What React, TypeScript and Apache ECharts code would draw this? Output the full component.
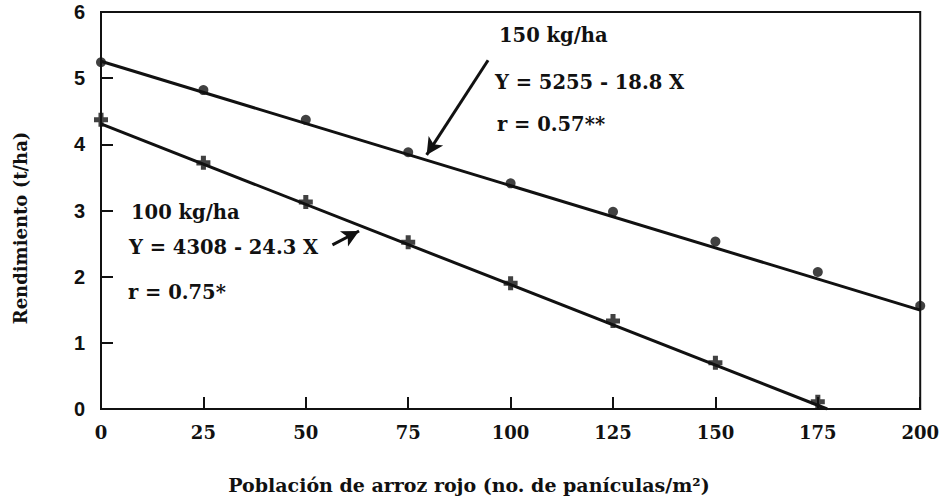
import React, { useEffect, useRef } from "react";
import * as echarts from "echarts";

const xTicks = [0, 25, 50, 75, 100, 125, 150, 175, 200];
const yTicks = [0, 1, 2, 3, 4, 5, 6];

// 150 kg/ha observations (circles)
const x150 = [0, 25, 50, 75, 100, 125, 150, 175, 200];
const y150 = [5.24, 4.82, 4.37, 3.88, 3.41, 2.98, 2.53, 2.07, 1.56];
// 100 kg/ha observations (crosses)
const x100 = [0, 25, 50, 75, 100, 125, 150, 175];
const y100 = [4.37, 3.72, 3.13, 2.52, 1.9, 1.33, 0.7, 0.11];

// fitted lines (endpoints)
const fit150 = [[0, 5.255], [200, 1.495]];
const fit100 = [[0, 4.308], [177.3, 0]];

// annotation arrows (data coords)
const arrow150 = [[94.5, 5.27], [79.5, 3.84]];
const arrow100 = [[56.5, 2.48], [63, 2.69]];

const serif = "'DejaVu Serif', 'Liberation Serif', serif";
const CROSS = "path://M3.2,0 L6.8,0 L6.8,3.2 L10,3.2 L10,6.8 L6.8,6.8 L6.8,10 L3.2,10 L3.2,6.8 L0,6.8 L0,3.2 L3.2,3.2 Z";

export default function App() {
  const ref = useRef<HTMLDivElement>(null);
  useEffect(() => {
    const chart = echarts.init(ref.current!, null, { renderer: "svg" });
    const pts = (xs: number[], ys: number[]) => xs.map((x, i) => [x, ys[i]]);
    const txt = (x: number, y: number, s: string, size = 19.5) => ({
      type: "text",
      x,
      y,
      style: { text: s, font: `bold ${size}px ${serif}`, fill: "#111", textVerticalAlign: "middle" },
    });
    chart.setOption({
      animation: false,
      backgroundColor: "#fff",
      grid: { left: 101, right: 21, top: 12, bottom: 91, show: true, borderColor: "#111", borderWidth: 2 },
      xAxis: {
        type: "value",
        min: 0,
        max: 200,
        interval: 25,
        axisLine: { lineStyle: { color: "#111", width: 2 } },
        axisTick: { inside: true, length: 12, lineStyle: { color: "#111", width: 2 } },
        splitLine: { show: false },
        axisLabel: {
          color: "#111",
          fontFamily: serif,
          fontWeight: "bold",
          fontSize: 18,
          margin: 14,
          formatter: (v: number) => (xTicks.includes(v) ? String(v) : ""),
        },
      },
      yAxis: {
        type: "value",
        min: 0,
        max: 6,
        interval: 1,
        axisLine: { show: true, lineStyle: { color: "#111", width: 2 } },
        axisTick: { show: true, inside: true, length: 12, lineStyle: { color: "#111", width: 2 } },
        splitLine: { show: false },
        axisLabel: {
          color: "#111",
          fontFamily: "'Liberation Sans', Arial, sans-serif",
          fontWeight: "bold",
          fontSize: 20,
          margin: 16,
          formatter: (v: number) => (yTicks.includes(v) ? String(v) : ""),
        },
      },
      series: [
        {
          type: "line",
          data: fit150,
          symbol: "none",
          lineStyle: { color: "#111", width: 3 },
          markLine: {
            silent: true,
            symbol: ["none", "arrow"],
            symbolSize: [13, 17],
            label: { show: false },
            lineStyle: { color: "#111", width: 3, type: "solid" },
            data: [
              [{ coord: arrow150[0] }, { coord: arrow150[1] }],
              [{ coord: arrow100[0] }, { coord: arrow100[1] }],
            ],
          },
        },
        { type: "line", data: fit100, symbol: "none", lineStyle: { color: "#111", width: 3 } },
        {
          type: "scatter",
          data: pts(x150, y150),
          symbol: "circle",
          symbolSize: 10,
          itemStyle: { color: "#111" },
        },
        {
          type: "scatter",
          data: pts(x100, y100),
          symbol: CROSS,
          symbolSize: 14,
          itemStyle: { color: "#111" },
        },
      ],
      graphic: [
        txt(499, 35, "150 kg/ha"),
        txt(495, 82, "Y = 5255 - 18.8 X"),
        txt(497, 124, "r = 0.57**"),
        txt(131, 212, "100 kg/ha"),
        txt(129, 247, "Y = 4308 - 24.3 X"),
        txt(128, 292, "r = 0.75*"),
        {
          type: "text",
          x: 469,
          y: 485,
          style: {
            text: "Población de arroz rojo (no. de panículas/m²)",
            font: `bold 19px ${serif}`,
            fill: "#111",
            textAlign: "center",
            textVerticalAlign: "middle",
          },
        },
        {
          type: "text",
          x: 20,
          y: 228,
          rotation: Math.PI / 2,
          style: {
            text: "Rendimiento (t/ha)",
            font: `bold 18px ${serif}`,
            fill: "#111",
            textAlign: "center",
            textVerticalAlign: "middle",
          },
        },
      ],
    });
    return () => chart.dispose();
  }, []);
  return <div ref={ref} style={{ position: "fixed", left: 0, top: 0, width: 942, height: 500 }} />;
}
